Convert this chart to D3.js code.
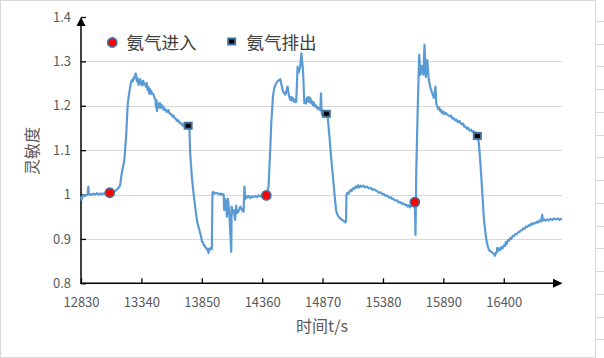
<!DOCTYPE html>
<html><head><meta charset="utf-8">
<script src="https://cdn.jsdelivr.net/npm/d3@7"></script>
<style>body{margin:0;background:#fff;}svg{display:block;}</style>
</head><body>
<svg id="c" width="604" height="358"></svg>
<script>
// [time (s), sensitivity]
const readings = [
[12830,0.995],[12836,0.988],[12842,0.996],[12849,0.999],[12860,0.996],[12870,0.998],[12880,0.999],[12886,1.000],[12892,1.018],[12896,1.001],[12906,1.001],[12920,0.999],[12935,1.002],[12950,1.000],[12965,1.003],[12980,1.000],[12991,1.002],[13010,1.001],[13030,1.003],[13045,1.001],[13058,1.003],[13073,1.004],[13100,1.006],[13118,1.008],[13140,1.013],[13160,1.020],
[13174,1.048],[13196,1.078],[13211,1.131],[13225,1.206],[13239,1.232],[13250,1.250],[13259,1.258],[13268,1.255],[13275,1.264],[13283,1.262],[13287,1.270],[13293,1.273],[13298,1.265],[13302,1.255],[13308,1.262],[13315,1.247],[13320,1.256],[13325,1.252],[13330,1.260],[13337,1.248],[13343,1.254],[13349,1.246],[13355,1.256],[13362,1.249],[13371,1.250],[13378,1.243],[13385,1.251],[13392,1.236],[13399,1.242],[13405,1.228],[13410,1.238],[13416,1.226],[13422,1.234],[13430,1.228],[13442,1.226],[13450,1.218],[13458,1.215],[13464,1.196],[13468,1.212],[13472,1.188],[13478,1.206],[13484,1.200],[13490,1.196],[13496,1.206],[13502,1.196],[13510,1.202],[13518,1.194],[13526,1.198],[13534,1.190],[13545,1.192],[13555,1.186],[13568,1.190],[13578,1.182],[13590,1.182],[13600,1.176],[13611,1.178],[13620,1.172],[13630,1.171],[13640,1.166],[13653,1.167],[13663,1.161],[13675,1.161],[13685,1.156],[13695,1.158],[13705,1.153],[13715,1.156],[13735,1.155],[13746,1.146],
[13752,1.093],[13766,1.040],[13780,1.003],[13794,0.973],[13805,0.950],[13814,0.935],[13825,0.925],[13836,0.913],[13845,0.905],[13851,0.894],[13858,0.893],[13864,0.888],[13875,0.884],[13885,0.880],[13893,0.876],[13900,0.878],[13907,0.868],[13914,0.878],[13920,0.876],[13928,0.880],[13935,0.877],
[13940,1.003],[13945,1.006],[13955,1.002],[13965,1.004],[13980,1.003],[13995,1.001],[14008,1.002],[14020,0.999],[14030,1.001],[14035,1.000],[14039,0.965],[14048,0.990],[14055,0.984],[14062,0.950],[14071,0.990],[14082,0.960],[14099,0.871],[14102,0.973],[14110,0.958],[14118,0.965],[14132,0.943],[14140,0.975],[14147,0.958],[14160,0.962],[14175,0.973],[14189,0.965],[14203,0.961],[14210,1.018],[14217,0.990],[14224,0.996],[14231,0.993],[14245,0.997],[14259,0.992],[14270,0.996],[14285,0.994],[14302,0.997],[14315,0.994],[14330,0.998],[14344,0.996],[14360,0.999],[14380,0.996],[14395,0.998],
[14414,1.018],[14429,1.108],[14437,1.161],[14451,1.221],[14462,1.240],[14476,1.250],[14490,1.255],[14513,1.260],[14525,1.245],[14536,1.232],[14555,1.225],[14575,1.243],[14586,1.222],[14598,1.213],[14605,1.220],[14612,1.212],[14619,1.218],[14626,1.210],[14633,1.214],[14640,1.208],[14648,1.209],[14659,1.288],[14668,1.275],[14680,1.285],[14691,1.318],[14705,1.280],[14716,1.206],[14723,1.212],[14730,1.205],[14738,1.218],[14745,1.210],[14752,1.220],[14760,1.208],[14767,1.217],[14774,1.206],[14780,1.210],[14788,1.202],[14795,1.208],[14802,1.199],[14810,1.202],[14817,1.196],[14824,1.198],[14832,1.192],[14840,1.195],[14851,1.190],[14857,1.228],[14862,1.185],[14866,1.180],[14873,1.189],[14880,1.182],[14890,1.186],[14902,1.182],
[14913,1.176],[14928,1.131],[14942,1.085],[14955,1.048],[14970,1.003],[14984,0.965],[14995,0.955],[15006,0.950],[15020,0.946],[15035,0.943],[15050,0.940],[15063,0.937],[15068,0.941],
[15072,0.999],[15080,1.004],[15090,1.002],[15105,1.010],[15115,1.008],[15125,1.014],[15135,1.012],[15148,1.018],[15158,1.015],[15170,1.021],[15180,1.016],[15192,1.020],[15204,1.018],[15215,1.020],[15230,1.016],[15245,1.018],[15260,1.014],[15275,1.015],[15290,1.011],[15305,1.012],[15317,1.009],[15330,1.008],[15345,1.004],[15360,1.005],[15375,1.001],[15387,1.001],[15400,0.997],[15415,0.998],[15430,0.993],[15445,0.994],[15458,0.990],[15470,0.990],[15485,0.986],[15500,0.987],[15515,0.982],[15528,0.983],[15540,0.979],[15555,0.980],[15570,0.976],[15580,0.977],[15590,0.973],[15600,0.976],[15610,0.971],[15621,0.978],[15630,0.975],[15640,0.978],[15649,0.983],
[15655,0.909],[15661,1.048],[15674,1.198],[15686,1.315],[15697,1.270],[15710,1.290],[15722,1.270],[15731,1.337],[15742,1.265],[15754,1.303],[15767,1.258],[15782,1.240],[15796,1.228],[15810,1.218],[15824,1.243],[15830,1.205],[15839,1.198],[15848,1.192],[15855,1.196],[15866,1.187],[15873,1.190],[15881,1.183],[15890,1.187],[15900,1.181],[15910,1.184],[15923,1.180],[15935,1.178],[15945,1.176],[15955,1.178],[15967,1.171],[15979,1.172],[15990,1.167],[16000,1.169],[16012,1.163],[16025,1.166],[16036,1.161],[16046,1.158],[16056,1.160],[16067,1.153],[16078,1.153],[16090,1.148],[16100,1.150],[16112,1.144],[16125,1.146],[16135,1.141],[16145,1.143],[16155,1.138],[16165,1.140],[16177,1.132],
[16190,1.116],[16205,1.063],[16219,1.003],[16233,0.943],[16253,0.898],[16265,0.884],[16275,0.875],[16290,0.872],[16304,0.869],[16315,0.867],[16326,0.862],[16333,0.868],[16340,0.870],[16345,0.880],[16350,0.872],[16360,0.879],[16370,0.875],[16380,0.882],[16390,0.879],[16402,0.886],[16410,0.884],[16418,0.893],[16426,0.889],[16435,0.897],[16444,0.896],[16455,0.902],[16465,0.900],[16475,0.907],[16486,0.906],[16497,0.911],[16508,0.910],[16520,0.915],[16531,0.915],[16543,0.919],[16555,0.920],[16566,0.924],[16577,0.923],[16588,0.928],[16600,0.927],[16612,0.931],[16623,0.930],[16634,0.935],[16645,0.933],[16656,0.936],[16668,0.935],[16680,0.939],[16690,0.937],[16700,0.941],[16712,0.939],[16718,0.944],[16725,0.954],[16730,0.941],[16740,0.944],[16752,0.941],[16768,0.944],[16780,0.942],[16795,0.945],[16810,0.943],[16825,0.946],[16840,0.944],[16855,0.946],[16870,0.943],[16882,0.945],[16892,0.944]
];
const inTimes = [13073,14395,15649];
const inValues = [1.004,0.998,0.983];
const outTimes = [13735,14902,16177];
const outValues = [1.155,1.182,1.132];
const xTicks = [12830,13340,13850,14360,14870,15380,15890,16400];
const yTicks = [0.8,0.9,1.0,1.1,1.2,1.3,1.4];
const legendLabels = ["氨气进入","氨气排出"];
const xTitle = "时间t/s";
const yTitle = "灵敏度";

const svg = d3.select("#c");
const font = "'Noto Sans CJK SC','Noto Sans',sans-serif";
const x = d3.scaleLinear().domain([12830,16892]).range([81,562]);
const y = d3.scaleLinear().domain([0.8,1.4]).range([283.3,17]);

// frame
svg.append("rect").attr("x",0.5).attr("y",0.5).attr("width",595).attr("height",357)
  .attr("fill","none").attr("stroke","#d9d9d9");
for(let i=0;i<16;i++){
  const yy = 180 + (i-7)*22.75;
  if(yy>0 && yy<358) svg.append("line").attr("x1",596).attr("x2",604).attr("y1",Math.round(yy)+0.5).attr("y2",Math.round(yy)+0.5).attr("stroke","#d9d9d9");
}

// gridlines
svg.append("g").selectAll("line").data(yTicks.filter(v=>v>0.85&&v<1.35)).join("line")
  .attr("x1",82).attr("x2",562).attr("y1",d=>Math.round(y(d))+0.5).attr("y2",d=>Math.round(y(d))+0.5)
  .attr("stroke","#d9d9d9").attr("stroke-width",1);

// axes
const yAxis = d3.axisLeft(y).tickValues(yTicks).tickSize(-5).tickPadding(10)
  .tickFormat(d=>d===1?"1":d3.format(".1f")(d));
const gy = svg.append("g").attr("transform","translate(81,0)").call(yAxis);
gy.select(".domain").remove();
gy.selectAll(".tick line").attr("stroke","#000").attr("stroke-width",1.3);
gy.selectAll("text").attr("font-family",font).attr("font-size",13).attr("fill","#595959");

const xAxis = d3.axisBottom(x).tickValues(xTicks).tickSize(-5).tickPadding(14).tickFormat(d3.format("d"));
const gx = svg.append("g").attr("transform","translate(0,283.3)").call(xAxis);
gx.select(".domain").remove();
gx.selectAll(".tick line").attr("stroke","#000").attr("stroke-width",1.3);
gx.selectAll("text").attr("font-family",font).attr("font-size",13).attr("fill","#595959");

svg.append("line").attr("x1",81).attr("x2",81).attr("y1",284).attr("y2",20).attr("stroke","#000").attr("stroke-width",1.5);
svg.append("path").attr("d","M81,17L76.5,26L85.5,26Z").attr("fill","#000");
svg.append("line").attr("x1",80.3).attr("x2",556).attr("y1",283.3).attr("y2",283.3).attr("stroke","#000").attr("stroke-width",1.5);
svg.append("path").attr("d","M562.5,283.3L553,278.8L553,287.8Z").attr("fill","#000");

// line
svg.append("path").datum(readings)
  .attr("d",d3.line().x(d=>x(d[0])).y(d=>y(d[1])))
  .attr("fill","none").attr("stroke","#5B9BD5").attr("stroke-width",2.2).attr("stroke-linejoin","round");

// markers
svg.append("g").selectAll("circle").data(inTimes.map((t,i)=>[t,inValues[i]])).join("circle")
  .attr("cx",d=>x(d[0])).attr("cy",d=>y(d[1])).attr("r",4.6)
  .attr("fill","#ff0000").attr("stroke","#41719C").attr("stroke-width",1.6);
svg.append("g").selectAll("rect").data(outTimes.map((t,i)=>[t,outValues[i]])).join("rect")
  .attr("x",d=>x(d[0])-3.5).attr("y",d=>y(d[1])-3).attr("width",7).attr("height",6)
  .attr("fill","#000").attr("stroke","#41719C").attr("stroke-width",2);

// legend
svg.append("circle").attr("cx",112.3).attr("cy",42.5).attr("r",4.6)
  .attr("fill","#ff0000").attr("stroke","#41719C").attr("stroke-width",1.6);
svg.append("text").attr("x",126.5).attr("y",48.5).text(legendLabels[0])
  .attr("font-family",font).attr("font-size",17.5).attr("fill","#404040");
svg.append("rect").attr("x",228.2).attr("y",38.5).attr("width",7).attr("height",6)
  .attr("fill","#000").attr("stroke","#41719C").attr("stroke-width",2);
svg.append("text").attr("x",246.5).attr("y",48.5).text(legendLabels[1])
  .attr("font-family",font).attr("font-size",17.5).attr("fill","#404040");

// titles
svg.append("text").attr("x",322).attr("y",332).attr("text-anchor","middle").text(xTitle)
  .attr("font-family",font).attr("font-size",16).attr("fill","#595959");
svg.append("text").attr("transform","translate(38,151) rotate(-90)").attr("text-anchor","middle").text(yTitle)
  .attr("font-family",font).attr("font-size",16).attr("fill","#595959");
</script>
</body></html>
